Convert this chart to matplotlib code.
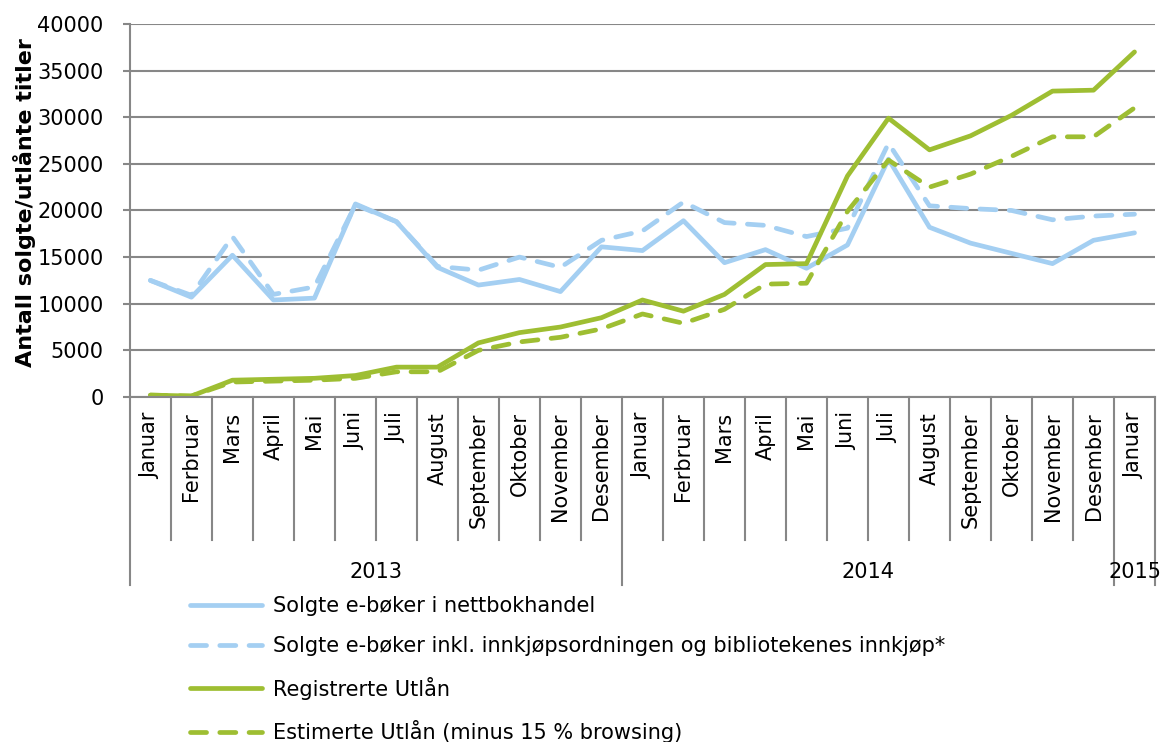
import matplotlib
matplotlib.use('Agg')
import matplotlib.pyplot as plt
import matplotlib.transforms as mtransforms

# måneder (jan 2013 - jan 2015)
maaneder = ['Januar', 'Ferbruar', 'Mars', 'April', 'Mai', 'Juni', 'Juli', 'August',
            'September', 'Oktober', 'November', 'Desember',
            'Januar', 'Ferbruar', 'Mars', 'April', 'Mai', 'Juni', 'Juli', 'August',
            'September', 'Oktober', 'November', 'Desember', 'Januar']
aar = ['2013', '2014', '2015']
aar_antall = [12, 12, 1]

solgte = [12500, 10700, 15200, 10400, 10600, 20700, 18800, 13900, 12000, 12600, 11300, 16100,
          15700, 18900, 14400, 15800, 13800, 16300, 25500, 18200, 16500, 15400, 14300, 16800,
          17600]
solgte_inkl = [12500, 10900, 17200, 11000, 11800, 20600, 18800, 14000, 13600, 15000, 13900, 16800,
               17800, 20900, 18700, 18400, 17200, 18100, 27200, 20500, 20200, 20000, 19000, 19400,
               19600]
utlaan = [200, 100, 1800, 1900, 2000, 2300, 3200, 3200, 5800, 6900, 7500, 8500,
          10400, 9200, 11000, 14200, 14300, 23700, 29900, 26500, 28000, 30200, 32800, 32900,
          37000]
utlaan_est = [200, 100, 1600, 1700, 1800, 2000, 2700, 2700, 5000, 5900, 6400, 7300,
              8900, 7900, 9400, 12100, 12200, 19900, 25400, 22500, 23900, 25800, 27900, 27900,
              31000]

BLAA = '#A4CFF2'
GROENN = '#9EBE32'
GRAA = '#878787'

fig = plt.figure(figsize=(11.6, 7.42), dpi=100)
ax = fig.add_axes([0.112, 0.465, 0.8837, 0.5027])

x = [i + 0.5 for i in range(len(maaneder))]
felles = dict(linewidth=3.4, solid_capstyle='round', solid_joinstyle='round',
              dash_capstyle='round', dash_joinstyle='round')
ax.plot(x, solgte, color=BLAA, label='Solgte e-bøker i nettbokhandel', **felles)
ax.plot(x, solgte_inkl, color=BLAA, dashes=(3.4, 2.8),
        label='Solgte e-bøker inkl. innkjøpsordningen og bibliotekenes innkjøp*', **felles)
ax.plot(x, utlaan, color=GROENN, label='Registrerte Utlån', **felles)
ax.plot(x, utlaan_est, color=GROENN, dashes=(3.4, 2.8),
        label='Estimerte Utlån (minus 15 % browsing)', **felles)

ax.set_xlim(0, len(maaneder))
ax.set_ylim(0, 40000)
ax.set_yticks(range(0, 40001, 5000))
ax.yaxis.grid(True, color=GRAA, linewidth=1.5)
ax.set_axisbelow(True)
ax.tick_params(axis='y', labelsize=15, length=5, width=1.5, color=GRAA, pad=14)

ax.set_xticks(x)
ax.set_xticklabels(maaneder, rotation=90, fontsize=15, va='top')
ax.tick_params(axis='x', length=0, pad=11)

for side in ['top', 'right']:
    ax.spines[side].set_visible(False)
ax.spines['left'].set_color(GRAA)
ax.spines['left'].set_linewidth(1.5)
ax.spines['bottom'].set_color(GRAA)
ax.spines['bottom'].set_linewidth(1.5)

ax.set_ylabel('Antall solgte/utlånte titler', fontsize=16, fontweight='bold')
ax.yaxis.set_label_coords(-0.092, 0.52)

# kategoriakse med skillelinjer
trans = mtransforms.blended_transform_factory(ax.transData, ax.transAxes)
grenser = [0]
for n in aar_antall:
    grenser.append(grenser[-1] + n)
for i in range(len(maaneder) + 1):
    bunn = -0.504 if i in grenser else -0.383
    ax.plot([i, i], [0, bunn], color=GRAA, linewidth=1.5, transform=trans, clip_on=False)
for j, navn in enumerate(aar):
    midt = (grenser[j] + grenser[j + 1]) / 2
    ax.text(midt, -0.469, navn, transform=trans, ha='center', va='center', fontsize=15)

fig.legend(loc='upper left', bbox_to_anchor=(0.1638, 0.197), frameon=False, fontsize=15,
           borderpad=0, borderaxespad=0, handlelength=3.46, handletextpad=0.5,
           labelspacing=0.98)

fig.savefig('out.png', dpi=100)
